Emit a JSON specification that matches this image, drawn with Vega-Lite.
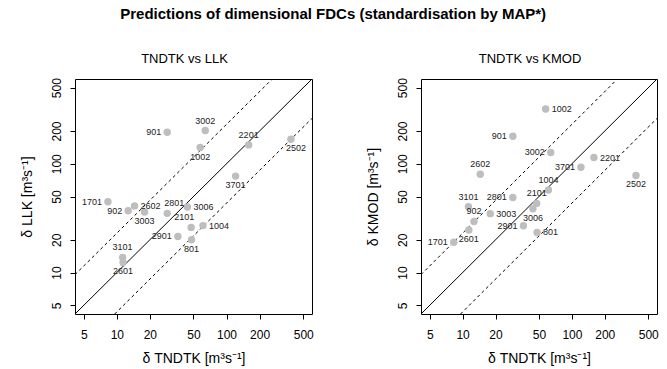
{
  "$schema": "https://vega.github.io/schema/vega-lite/v6.json",
  "padding": {"left": 19, "top": 7, "right": 5, "bottom": 0},
  "title": {"text": "Predictions of dimensional FDCs (standardisation by MAP*)", "fontSize": 15, "fontWeight": "bold", "color": "black", "anchor": "middle", "offset": 30, "dx": -6},
  "datasets": {
    "pts": [
      {"id": "901", "tndtk": 28.8, "llk": 195, "kmod": 179},
      {"id": "3002", "tndtk": 64, "llk": 202, "kmod": 127},
      {"id": "1002", "tndtk": 57.5, "llk": 141, "kmod": 318},
      {"id": "2201", "tndtk": 159, "llk": 149, "kmod": 114},
      {"id": "2502", "tndtk": 386, "llk": 168, "kmod": 78},
      {"id": "3701", "tndtk": 121, "llk": 77, "kmod": 93},
      {"id": "1701", "tndtk": 8.3, "llk": 44.7, "kmod": 19},
      {"id": "902", "tndtk": 12.7, "llk": 37, "kmod": 29.5},
      {"id": "2602", "tndtk": 14.5, "llk": 41, "kmod": 80},
      {"id": "3003", "tndtk": 17.9, "llk": 36, "kmod": 34.8},
      {"id": "2801", "tndtk": 28.8, "llk": 35, "kmod": 49},
      {"id": "3006", "tndtk": 44, "llk": 40, "kmod": 38.6},
      {"id": "2101", "tndtk": 47.6, "llk": 26, "kmod": 43.2},
      {"id": "1004", "tndtk": 61, "llk": 27, "kmod": 57.4},
      {"id": "2901", "tndtk": 36, "llk": 21.5, "kmod": 26.9},
      {"id": "801", "tndtk": 48, "llk": 20, "kmod": 23.4},
      {"id": "3101", "tndtk": 11.3, "llk": 13.8, "kmod": 40.3},
      {"id": "2601", "tndtk": 11.4, "llk": 12.4, "kmod": 24.6}
    ],
    "lines": [
      {"line": "1:1", "x": 4.16, "y": 4.16},
      {"line": "1:1", "x": 601, "y": 601},
      {"line": "upper", "x": 4.16, "y": 9.57},
      {"line": "upper", "x": 261, "y": 601},
      {"line": "lower", "x": 9.57, "y": 4.16},
      {"line": "lower", "x": 601, "y": 261}
    ]
  },
  "spacing": 51,
  "hconcat": [
    {
      "width": 237, "height": 235,
      "title": "TNDTK vs LLK",
      "layer": [
        {
          "data": {"name": "lines"},
          "transform": [{"filter": "datum.line == '1:1'"}],
          "mark": {"type": "line", "color": "black", "strokeWidth": 1, "clip": true},
          "encoding": {
            "x": {"field": "x", "type": "quantitative", "title": "δ TNDTK  [m³s⁻¹]", "scale": {"type": "log", "domain": [4.16, 601], "nice": false}, "axis": {"values": [5, 10, 20, 50, 100, 200, 500], "format": "d"}},
            "y": {"field": "y", "type": "quantitative", "title": "δ LLK  [m³s⁻¹]", "scale": {"type": "log", "domain": [4.16, 601], "nice": false}, "axis": {"values": [5, 10, 20, 50, 100, 200, 500], "format": "d"}},
            "detail": {"field": "line"}
          }
        },
        {
          "data": {"name": "lines"},
          "transform": [{"filter": "datum.line != '1:1'"}],
          "mark": {"type": "line", "color": "black", "strokeWidth": 1, "strokeDash": [3, 3], "clip": true},
          "encoding": {
            "x": {"field": "x", "type": "quantitative", "title": "δ TNDTK  [m³s⁻¹]"},
            "y": {"field": "y", "type": "quantitative", "title": "δ LLK  [m³s⁻¹]"},
            "detail": {"field": "line"}
          }
        },
        {
          "data": {"name": "pts"},
          "mark": {"type": "circle", "color": "#BEBEBE", "opacity": 1, "size": 55},
          "encoding": {
            "x": {"field": "tndtk", "type": "quantitative", "title": "δ TNDTK  [m³s⁻¹]"},
            "y": {"field": "llk", "type": "quantitative", "title": "δ LLK  [m³s⁻¹]"}
          }
        },
        {
          "data": {"name": "pts"},
          "transform": [{"filter": {"field": "id", "oneOf": ["901", "1701", "902", "2901"]}}],
          "mark": {"type": "text", "fontSize": 9, "color": "#222", "align": "right", "baseline": "middle", "dx": -6},
          "encoding": {
            "x": {"field": "tndtk", "type": "quantitative", "title": "δ TNDTK  [m³s⁻¹]"},
            "y": {"field": "llk", "type": "quantitative", "title": "δ LLK  [m³s⁻¹]"},
            "text": {"field": "id"}
          }
        },
        {
          "data": {"name": "pts"},
          "transform": [{"filter": {"field": "id", "oneOf": ["2602", "3006", "1004"]}}],
          "mark": {"type": "text", "fontSize": 9, "color": "#222", "align": "left", "baseline": "middle", "dx": 6},
          "encoding": {
            "x": {"field": "tndtk", "type": "quantitative", "title": "δ TNDTK  [m³s⁻¹]"},
            "y": {"field": "llk", "type": "quantitative", "title": "δ LLK  [m³s⁻¹]"},
            "text": {"field": "id"}
          }
        },
        {
          "data": {"name": "pts"},
          "transform": [{"filter": {"field": "id", "oneOf": ["3002", "2201", "3101"]}}],
          "mark": {"type": "text", "fontSize": 9, "color": "#222", "align": "center", "baseline": "bottom", "dy": -5},
          "encoding": {
            "x": {"field": "tndtk", "type": "quantitative", "title": "δ TNDTK  [m³s⁻¹]"},
            "y": {"field": "llk", "type": "quantitative", "title": "δ LLK  [m³s⁻¹]"},
            "text": {"field": "id"}
          }
        },
        {
          "data": {"name": "pts"},
          "transform": [{"filter": {"field": "id", "oneOf": ["2801"]}}],
          "mark": {"type": "text", "fontSize": 9, "color": "#222", "align": "center", "baseline": "bottom", "dy": -5, "dx": 7},
          "encoding": {
            "x": {"field": "tndtk", "type": "quantitative", "title": "δ TNDTK  [m³s⁻¹]"},
            "y": {"field": "llk", "type": "quantitative", "title": "δ LLK  [m³s⁻¹]"},
            "text": {"field": "id"}
          }
        },
        {
          "data": {"name": "pts"},
          "transform": [{"filter": {"field": "id", "oneOf": ["2101"]}}],
          "mark": {"type": "text", "fontSize": 9, "color": "#222", "align": "center", "baseline": "bottom", "dy": -5, "dx": -7},
          "encoding": {
            "x": {"field": "tndtk", "type": "quantitative", "title": "δ TNDTK  [m³s⁻¹]"},
            "y": {"field": "llk", "type": "quantitative", "title": "δ LLK  [m³s⁻¹]"},
            "text": {"field": "id"}
          }
        },
        {
          "data": {"name": "pts"},
          "transform": [{"filter": {"field": "id", "oneOf": ["1002", "3701", "3003", "801", "2601"]}}],
          "mark": {"type": "text", "fontSize": 9, "color": "#222", "align": "center", "baseline": "top", "dy": 5},
          "encoding": {
            "x": {"field": "tndtk", "type": "quantitative", "title": "δ TNDTK  [m³s⁻¹]"},
            "y": {"field": "llk", "type": "quantitative", "title": "δ LLK  [m³s⁻¹]"},
            "text": {"field": "id"}
          }
        },
        {
          "data": {"name": "pts"},
          "transform": [{"filter": {"field": "id", "oneOf": ["2502"]}}],
          "mark": {"type": "text", "fontSize": 9, "color": "#222", "align": "center", "baseline": "top", "dy": 5, "dx": 5},
          "encoding": {
            "x": {"field": "tndtk", "type": "quantitative", "title": "δ TNDTK  [m³s⁻¹]"},
            "y": {"field": "llk", "type": "quantitative", "title": "δ LLK  [m³s⁻¹]"},
            "text": {"field": "id"}
          }
        }
      ]
    },
    {
      "width": 236, "height": 235,
      "title": "TNDTK vs KMOD",
      "layer": [
        {
          "data": {"name": "lines"},
          "transform": [{"filter": "datum.line == '1:1'"}],
          "mark": {"type": "line", "color": "black", "strokeWidth": 1, "clip": true},
          "encoding": {
            "x": {"field": "x", "type": "quantitative", "title": "δ TNDTK  [m³s⁻¹]", "scale": {"type": "log", "domain": [4.16, 601], "nice": false}, "axis": {"values": [5, 10, 20, 50, 100, 200, 500], "format": "d"}},
            "y": {"field": "y", "type": "quantitative", "title": "δ KMOD [m³s⁻¹]", "scale": {"type": "log", "domain": [4.16, 601], "nice": false}, "axis": {"values": [5, 10, 20, 50, 100, 200, 500], "format": "d"}},
            "detail": {"field": "line"}
          }
        },
        {
          "data": {"name": "lines"},
          "transform": [{"filter": "datum.line != '1:1'"}],
          "mark": {"type": "line", "color": "black", "strokeWidth": 1, "strokeDash": [3, 3], "clip": true},
          "encoding": {
            "x": {"field": "x", "type": "quantitative", "title": "δ TNDTK  [m³s⁻¹]"},
            "y": {"field": "y", "type": "quantitative", "title": "δ KMOD [m³s⁻¹]"},
            "detail": {"field": "line"}
          }
        },
        {
          "data": {"name": "pts"},
          "mark": {"type": "circle", "color": "#BEBEBE", "opacity": 1, "size": 55},
          "encoding": {
            "x": {"field": "tndtk", "type": "quantitative", "title": "δ TNDTK  [m³s⁻¹]"},
            "y": {"field": "kmod", "type": "quantitative", "title": "δ KMOD [m³s⁻¹]"}
          }
        },
        {
          "data": {"name": "pts"},
          "transform": [{"filter": {"field": "id", "oneOf": ["901", "3002", "3701", "2801", "2901", "1701"]}}],
          "mark": {"type": "text", "fontSize": 9, "color": "#222", "align": "right", "baseline": "middle", "dx": -6},
          "encoding": {
            "x": {"field": "tndtk", "type": "quantitative", "title": "δ TNDTK  [m³s⁻¹]"},
            "y": {"field": "kmod", "type": "quantitative", "title": "δ KMOD [m³s⁻¹]"},
            "text": {"field": "id"}
          }
        },
        {
          "data": {"name": "pts"},
          "transform": [{"filter": {"field": "id", "oneOf": ["1002", "2201", "3003", "801"]}}],
          "mark": {"type": "text", "fontSize": 9, "color": "#222", "align": "left", "baseline": "middle", "dx": 6},
          "encoding": {
            "x": {"field": "tndtk", "type": "quantitative", "title": "δ TNDTK  [m³s⁻¹]"},
            "y": {"field": "kmod", "type": "quantitative", "title": "δ KMOD [m³s⁻¹]"},
            "text": {"field": "id"}
          }
        },
        {
          "data": {"name": "pts"},
          "transform": [{"filter": {"field": "id", "oneOf": ["2602", "1004", "3101", "2101", "902"]}}],
          "mark": {"type": "text", "fontSize": 9, "color": "#222", "align": "center", "baseline": "bottom", "dy": -5},
          "encoding": {
            "x": {"field": "tndtk", "type": "quantitative", "title": "δ TNDTK  [m³s⁻¹]"},
            "y": {"field": "kmod", "type": "quantitative", "title": "δ KMOD [m³s⁻¹]"},
            "text": {"field": "id"}
          }
        },
        {
          "data": {"name": "pts"},
          "transform": [{"filter": {"field": "id", "oneOf": ["2502", "3006", "2601"]}}],
          "mark": {"type": "text", "fontSize": 9, "color": "#222", "align": "center", "baseline": "top", "dy": 5},
          "encoding": {
            "x": {"field": "tndtk", "type": "quantitative", "title": "δ TNDTK  [m³s⁻¹]"},
            "y": {"field": "kmod", "type": "quantitative", "title": "δ KMOD [m³s⁻¹]"},
            "text": {"field": "id"}
          }
        }
      ]
    }
  ],
  "config": {
    "font": "Liberation Sans",
    "view": {"stroke": "black", "strokeWidth": 1},
    "axis": {"grid": false, "domain": false, "tickColor": "black", "tickSize": 5, "labelFontSize": 12, "labelColor": "black", "labelFont": "Liberation Sans", "labelFlush": false, "labelOverlap": false, "titleFontSize": 14, "titleFontWeight": "normal", "titleColor": "black", "titleFont": "Liberation Sans"},
    "axisY": {"labelAngle": -90, "labelAlign": "center", "labelBaseline": "bottom", "labelPadding": 7, "titlePadding": 16},
    "axisX": {"labelPadding": 10, "titlePadding": 11},
    "title": {"fontSize": 13, "fontWeight": "normal", "offset": 12, "dx": -9, "color": "black", "font": "Liberation Sans"}
  }
}
